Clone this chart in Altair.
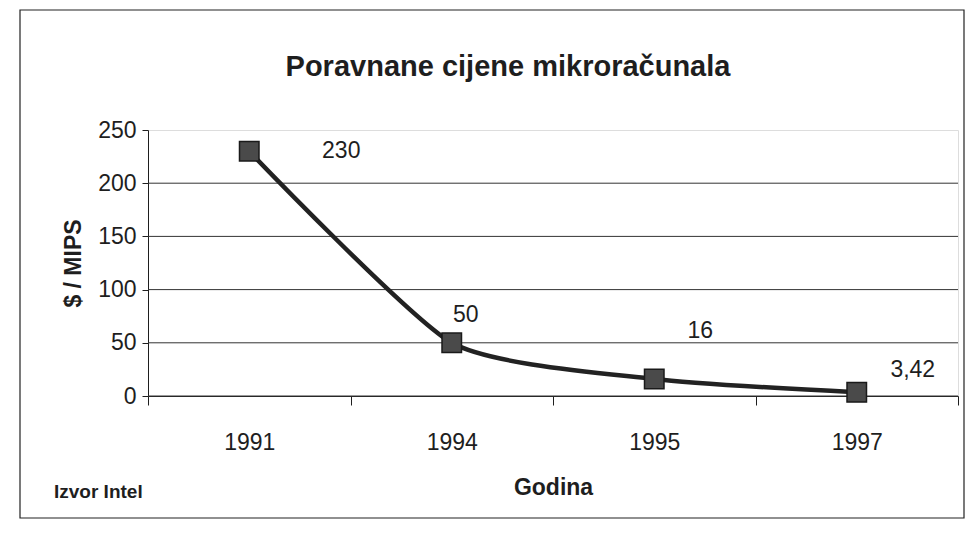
import altair as alt
import pandas as pd

years = ["1991", "1994", "1995", "1997"]
values = [230, 50, 16, 3.42]
labels = ["230", "50", "16", "3,42"]
grid_values = [0, 50, 100, 150, 200]
title_text = "Poravnane cijene mikroračunala"
source_text = "Izvor Intel"

# label offsets (pixels) relative to the points, as placed in the original
label_dx = [92, 14, 46, 56]
label_dy = [0, -28, -48, -22]

FONT = "Liberation Sans"
INK = "#1e1e1e"

df = pd.DataFrame({"year": years, "value": values, "label": labels})
grid_df = pd.DataFrame({"g": grid_values})

PLOT_W, PLOT_H = 810, 266
PAD = {"left": 140, "top": 122, "right": 8, "bottom": 132}

x_axis = alt.Axis(
    title="Godina",
    titleFont=FONT,
    titleFontSize=23,
    titleFontWeight="bold",
    titleColor=INK,
    titlePadding=22,
    labelFont=FONT,
    labelFontSize=23,
    labelColor=INK,
    labelAngle=0,
    labelPadding=26,
    tickBand="extent",
    tickSize=9,
    tickColor=INK,
    domain=True,
    domainColor=INK,
    grid=False,
)
x_enc = alt.X("year:N", sort=years,
              scale=alt.Scale(paddingInner=0, paddingOuter=0), axis=x_axis)

y_scale = alt.Scale(domain=[0, 250], nice=False)
y_axis = alt.Axis(
    title="$ / MIPS",
    titleFont=FONT,
    titleFontSize=23,
    titleFontWeight="bold",
    titleColor=INK,
    titlePadding=12,
    labelFont=FONT,
    labelFontSize=23,
    labelColor=INK,
    labelPadding=6,
    values=[0, 50, 100, 150, 200, 250],
    tickSize=6,
    tickColor=INK,
    domainColor=INK,
    grid=False,
)

grid = alt.Chart(grid_df).mark_rule(color="#333", strokeWidth=1).encode(
    y=alt.Y("g:Q", scale=y_scale, axis=y_axis)
)

line = alt.Chart(df).mark_line(
    color="#222", strokeWidth=4.5, interpolate="cardinal", tension=0.4
).encode(x=x_enc, y=alt.Y("value:Q", scale=y_scale, axis=y_axis))

points = alt.Chart(df).mark_point(
    shape="square", filled=True, size=380, color="#4a4a4a",
    stroke="#1a1a1a", strokeWidth=1.5, opacity=1
).encode(x=x_enc, y=alt.Y("value:Q", scale=y_scale, axis=y_axis))

text_layers = []
for i in range(len(years)):
    text_layers.append(
        alt.Chart(df.iloc[[i]]).mark_text(
            font=FONT, fontSize=23, color=INK, dx=label_dx[i], dy=label_dy[i]
        ).encode(
            x=x_enc,
            y=alt.Y("value:Q", scale=y_scale, axis=y_axis),
            text="label:N",
        )
    )

title = alt.Chart(df.iloc[[0]]).mark_text(
    font=FONT, fontSize=29, fontWeight="bold", color=INK, align="center", baseline="middle"
).encode(x=alt.value(360), y=alt.value(-63), text=alt.value(title_text))

source = alt.Chart(df.iloc[[0]]).mark_text(
    font=FONT, fontSize=19, fontWeight="bold", color=INK, align="left", baseline="middle"
).encode(x=alt.value(-94), y=alt.value(362), text=alt.value(source_text))

border = alt.Chart(df.iloc[[0]]).mark_rect(
    fill="transparent", stroke="#222", strokeWidth=1.2, clip=False
).encode(x=alt.value(-128), x2=alt.value(816), y=alt.value(-120), y2=alt.value(388))

chart = alt.layer(
    border, grid, line, points, *text_layers, title, source
).properties(
    width=PLOT_W,
    height=PLOT_H,
    padding=PAD,
    autosize=alt.AutoSizeParams(type="none"),
).configure_view(strokeWidth=0).configure(background="white")

chart.save("out.html", embed_options={"renderer": "svg", "actions": False})
